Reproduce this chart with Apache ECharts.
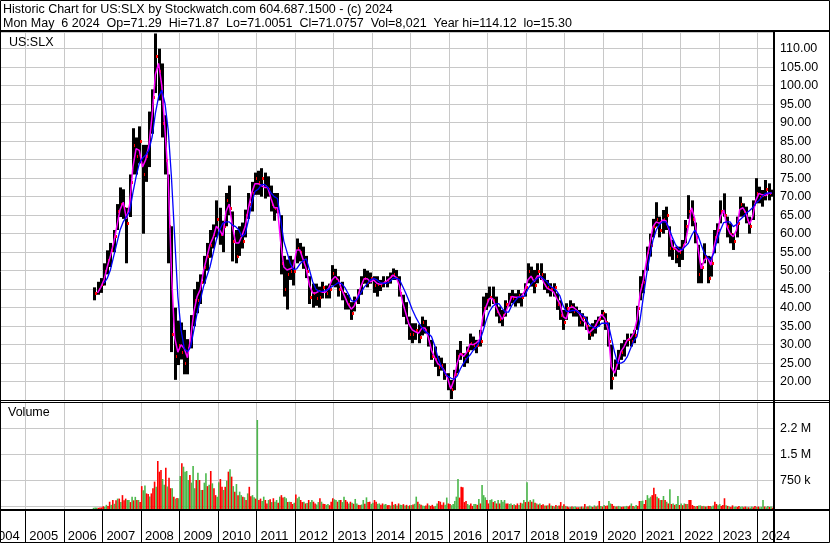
<!DOCTYPE html>
<html><head><meta charset="utf-8">
<script src="https://cdn.jsdelivr.net/npm/echarts@6/dist/echarts.min.js"></script>
<style>html,body{margin:0;padding:0;background:#fff}#c{width:830px;height:543px}</style>
</head><body><div id="c"></div>
<script>
// ---- data (monthly, Oct 2006 .. May 2024) ----
const firstYear = 2006, firstMonth = 10;
const priceLow = [
 42,43.5,44,
 46,49,51,55,61,64.5,64,52,64.5,76,76,79,
 60,74,78,87,98,96,86,76,52,28,20.5,24.5,
 26,22,22,29,35,38.5,41,46.5,50,53.5,56,59,
 57,55,62,65,52.5,52,54,56,59,64,66,70.5,
 70.5,70,69.5,70,66,63.5,65.5,49,43,39.5,47.5,46,
 52,52.5,50.5,48,41,40,40.5,40,42.5,42.5,42.5,46,
 45.5,43,42,39.5,39.5,36.7,39,41,43.5,46.5,45.5,46.5,
 44,43,44.5,45.5,45.5,46.5,47.5,47.5,43,37.5,35.5,31.3,
 30.4,31.3,30.4,32.5,33,29.5,25.9,24,21.5,23,20.5,17.7,
 15.3,17.7,22.3,25.9,24,25,28.5,28.5,27.7,29.5,35,39.4,
 40.3,41,37.6,35.8,35,37.6,40.3,41.2,40.3,41.2,40.3,43,
 46.6,45.7,43.9,46.6,47.5,44.8,43.9,43,43,39.4,36.7,34,
 36.7,38.5,37.6,37.6,34.9,34.9,34,31.3,32.2,33,34.9,36.7,
 34,29.5,17.9,21.4,23.2,25.9,26.8,29.5,29.5,30.4,34,42,
 43.9,50,53.8,59,61.9,59,60,61,53.8,52.9,52,51,
 52.9,57.4,64,62,57.4,46.6,46.6,52,46.6,48.4,54.7,57.4,
 62.8,64.6,59,57.4,55.6,59,64.6,64.6,62.8,60,63.7,68.2,
 68.2,67.3,69,69,70
];
const priceHigh = [
 45.5,47,48,
 52,55.5,57.5,61,68,72.5,72,67,76,88.5,86,89,
 84,84,93,99,114.1,110,106,92,76,62,40,36.5,
 36,34,31.5,38,45,47,49,54,57.5,61,62.5,69,
 67,63.5,71,73,66,61,62,63,66.5,71,74,76.5,
 77,77.7,76.5,75.5,73,71,71,65,54,53,54,53,
 58.7,57.5,56.5,54,48.5,46.5,46.5,45.7,47,46,46.5,51.5,
 50.5,48.5,47,44,43.5,41.5,43,45,48.5,50.5,50,49.5,
 48.5,48.5,47.5,48.5,48.5,49.5,50.6,50.2,48.5,43.5,41.5,37.6,
 35.8,35.8,35.5,37.6,36.7,35,31.3,29.5,27,26.5,25,22.3,
 20.5,23.2,28.6,31,27.7,29.5,33,32.2,31.3,34,43,44,
 45.7,45.7,43,40.3,39.4,42,44,44.8,43.9,44.8,43.9,46.6,
 52,51.1,50.2,52,52,49.3,47.5,46.6,46.6,43.9,42,39.4,
 41.2,42,41.2,40.3,39.4,38.5,37.6,34.9,35.8,36.7,37.6,39.4,
 38.5,36,30,26,28.6,30.4,31.3,33,33,34,40.5,48.5,
 50.2,56.5,60,64,68.5,64.6,66.4,67.3,62,58.3,56.5,56.5,
 58.3,63.7,70.4,69,63,57,52,57.4,54,53.8,61,62.8,
 69,70.9,64.6,62.8,60,64.6,70,68.2,67.3,64.6,69,75,
 72.7,71.8,74.5,73.6,71.9
];
const priceClose = [
 44,45,46.5,
 50,53,55.5,59.5,66,68,67,63,74,84,81,85,
 76,81,88,97,108,104,90,80,62,33,27,30,
 28,25,29,36,42,42,47,51,54,57,60,64,
 60,62,69,67,58,54,60,58,65,68,71,75,
 74,75,73,72,68,67,66,52,45,49,50,50,
 56,55,53,50,43,44,42.5,43,45.5,44,45,49.5,
 48,45,44,42,41,38.5,42,44,47,48,47,48,
 46,46.5,46,47,47.5,48.5,49,48,44,40,37,33,
 33,34,32,36,34,31,27,26,24,24.5,22,19,
 18,22,27,27.5,26,28.5,30.5,30,30,31,40,42,
 43,42,39,37,38,41,43,42.5,42.5,43.5,43,45.5,
 50,48,46,50,49,46,45.5,45,45.5,41,38,36,
 40,40.5,39,39,36,37.5,35,33,34.5,35.5,37,38.5,
 36,31,21,24.5,27,28,30.5,31.5,31,32.5,40,46,
 47,55,57,62,64,61,64,65,56,56,54,55,
 57,62,66,64,59,49,51,54,48,52,59,61,
 66,65,62,60,58,63,68,66,64,62,68,71,
 70,70.5,72,71,71.1
];
const maShort = [
 null,44,45.5,
 47.5,51,54,57.5,62,66.5,68.5,64,68,78,83,82.5,
 78,80,84,92,103,106,100,88,75,50,32,28,
 30,29,26.5,32,39,43,45,50,53.5,57,59,62,
 61,59.5,66,68,62,57.5,57.5,59.5,62,67,71,73.5,
 73.5,73,72.5,72.5,69.5,67,67,58,51,50.2,50.5,51,
 55.6,55.6,53,50.5,46,44,44,44.5,44.2,44.2,45.3,47.5,
 48.4,47.5,45,43,41,39.6,40.5,43,45.7,47.8,47.8,47,
 47.5,46.6,46.3,46.6,47.2,47.9,48.8,48.2,46,41.5,38.5,35.5,
 34,33.5,33.1,34.5,34.5,32,28.5,26.5,24.8,24.2,23,21,
 18,20.5,25,27.7,26.8,28,30.2,30,30.5,31.5,37.5,40.3,
 42.5,42.5,40.5,38.5,36.8,38.5,40.7,43,42.8,42.8,43,44.5,
 47.5,48.5,47,48.6,48.5,46.8,45.3,44.8,44.3,42.5,41,37.6,
 37,40,40.2,39.5,38.5,36.7,36,33.1,34,35,36.7,38.2,
 37.1,34,24,22.3,25,28.1,29.5,31.3,31.7,33.1,36.7,43.9,
 47.5,52.9,57.4,61.9,63.2,62.8,63.7,63.5,61,56.5,56,55.1,
 55.6,57.4,62,67,64,56,50.5,53,53.5,51.5,56.5,60,
 64.6,66.4,61.9,60,59.2,61,66.5,67,65.5,62.5,64.5,69,
 70.9,70.5,70.3,70.9,70.9
];
const maLong = [
 null,null,null,
 46.6,47.9,50.2,53.8,57.4,61,63.2,64.6,66,71,75.4,79,
 80.4,81.3,82.6,86.2,92.5,97,98.8,95.2,88,75.4,59.2,43,
 34,29,28.1,29.5,34,38.5,42,45.7,48.4,51,54.7,58.3,
 61,62.8,63.2,63.2,62.3,61.9,61,59.2,60,63.7,68.2,71.4,
 72,73.2,73.3,72.5,71,70,69.5,64,58,55,52,50.3,
 50.5,51.8,52.6,53.2,50.2,47,45,44.4,44.4,44.6,45,45.7,
 46.2,46.8,46.5,45.5,43.9,42,41.6,42.5,44,45.5,46.5,47.5,
 47.9,47.5,46.8,46.6,46.6,47,47.9,48,47.6,45.8,43.9,41.8,
 39.5,37.6,36,34.6,33.6,33,32.2,29.8,26.5,24.3,22.6,21.5,
 21,20.6,21.5,23.5,25,26.3,27.2,28.5,29.5,31,33.5,36.5,
 38.9,40.3,41,41.1,39.8,38.8,38.8,40.6,41.8,42.8,43,43.2,
 45,46.3,47.3,47.9,48.4,47.7,47,45.8,45.3,44.5,43.2,40.5,
 39,39,39.3,39.2,38.6,38,37.3,35.6,34.9,34.4,35,35.8,
 35.8,35.8,32,28,25,25,25.5,26.8,29,31,32.2,37,
 43,49,54,58.3,61,62.5,63.2,63.2,61.5,59,57,56,
 55.6,56.5,57.4,59.5,61,59.5,57,54.7,53.5,52.9,55,58.5,
 61,63,63.2,63.2,61.9,62.5,63.7,64.5,65.5,66.2,67,68.2,
 69,70,70.9,71,71
];
// volume, in thousands of shares, two values per month (first half, second half)
const volume = [
 35,40,40,35,40,45,
 80,60,120,90,210,120,260,150,250,300,300,200,400,250,300,260,260,200,350,250,350,260,260,200,
 660,540,680,450,430,360,450,600,790,640,1385,1077,1125,865,700,1190,650,900,600,600,350,300,320,310,
 950,1317,1220,1077,1096,836,980,760,1240,600,836,1048,836,550,550,760,1029,660,700,1096,740,600,400,350,
 770,865,640,550,640,817,1077,1144,933,660,500,720,400,500,400,350,340,260,450,640,370,400,340,300,
 2567,260,300,230,356,260,160,260,280,200,310,210,260,180,356,400,330,350,310,200,210,200,145,180,
 420,310,356,260,200,210,160,170,260,200,260,210,160,130,200,310,210,150,145,120,145,110,210,310,
 280,260,210,260,260,200,356,260,210,160,210,180,150,290,160,120,115,130,260,150,336,200,210,150,
 180,260,210,150,160,120,160,130,145,110,115,100,210,120,145,100,160,120,115,140,100,120,90,110,
 115,130,150,356,210,150,120,100,90,100,160,110,90,120,70,90,160,230,210,120,190,120,330,160,
 145,110,145,230,356,865,330,640,625,200,230,145,110,160,90,145,145,120,290,160,690,400,336,260,
 160,260,280,200,230,160,260,160,260,210,260,160,160,145,160,115,135,110,160,115,180,160,260,200,
 770,210,260,210,280,180,160,130,160,115,135,100,100,110,160,100,90,70,115,90,100,200,90,135,
 90,70,50,60,70,60,70,50,50,60,70,50,145,70,70,100,70,60,105,70,100,230,90,70,
 115,90,100,230,160,145,90,70,70,90,70,60,70,70,90,70,100,160,90,70,115,90,230,230,
 240,145,260,400,310,356,400,615,430,356,310,260,260,375,260,210,160,570,145,160,120,145,375,115,
 160,110,160,145,145,260,260,115,90,70,90,100,105,80,90,70,70,90,90,70,100,210,145,110,
 145,90,115,310,105,90,70,60,105,60,70,60,90,60,70,50,70,50,50,40,70,50,90,60,
 70,50,60,260,70,50,90,60,70,40
];
// g = up (green), r = down (red), one letter per half month
const volumeDirection = [
 'gggrrr',
 'rggrrgrgrgrgrrrggrgrgrgr',
 'rggrrgrrrgrrrggrgrrgrgrg',
 'grggggrgggrgrgrggrgrgrrg',
 'grrgrgrgrgrgrggrgrgrrggr',
 'grrggrrgrgrggrgrrggrgrrg',
 'rggrrgrgrggrrggrgrrggrrr',
 'ggrgrggrrgrgrggrrggrgrrg',
 'grrggrrggrrgrgrgrggrgrgr',
 'grggrgrggrrgrrrggrrrrggr',
 'rgggggrrrrrggrrggrgrgggr',
 'rggrgrgrgggrrggrgrrgrggr',
 'grgrgrgrgrrgrgrgrgrgrrgr',
 'grrgrggrrgrgrgrggrgrgrgr',
 'grrggrrgrggrrggrrgrggrrg',
 'grrgggrrrgrgrgrgrgrgrggr',
 'grgrgrrrrgrggrgrgrrggrrg',
 'grrrgrgrrggrrggrrgrggrrg',
 'rgggrggrgr'
].join('');
const priceTicks = [20,25,30,35,40,45,50,55,60,65,70,75,80,85,90,95,100,105,110];
const volumeTickLabels = {750: '750 k', 1500: '1.5 M', 2250: '2.2 M'};
const titleLine1 = 'Historic Chart for US:SLX by Stockwatch.com 604.687.1500 - (c) 2024';
const titleLine2 = 'Mon May  6 2024  Op=71.29  Hi=71.87  Lo=71.0051  Cl=71.0757  Vol=8,021  Year hi=114.12  lo=15.30';

// ---- build ----
const FONT = '"Liberation Sans", Arial, sans-serif';
const monthX = priceLow.map((_, i) => firstYear + (firstMonth - 1 + i + 0.5) / 12);
const halfX = volume.map((_, j) => firstYear + (firstMonth - 1 + j * 0.5 + 0.25) / 12);

const barData = priceLow.map((lo, i) => [monthX[i], lo, priceHigh[i], priceClose[i]]);
const shortData = maShort.map((v, i) => [monthX[i], v]);
const longData = maLong.map((v, i) => [monthX[i], v]);
const volData = volume.map((v, j) => [halfX[j], v, volumeDirection[j] === 'g' ? 1 : 0]);

const X_MIN = 2004, X_MAX = 2024.405;
const GL = -13.2, GR = 57;
const GRID_COLOR = '#c8c8c8';

function grid(top, height) {
  return {left: GL, right: GR, top: top, height: height, outerBoundsMode: 'none', containLabel: false};
}
function xAxis(gi, extra) {
  return Object.assign({
    type: 'value', gridIndex: gi, min: X_MIN, max: X_MAX, interval: 1,
    axisLine: {show: false}, axisTick: {show: false}, axisLabel: {show: false},
    splitLine: {show: true, lineStyle: {color: GRID_COLOR, width: 1}}
  }, extra || {});
}

const chart = echarts.init(document.getElementById('c'), null, {renderer: 'canvas'});
chart.setOption({
  animation: false,
  backgroundColor: '#fff',
  grid: [grid(32, 368.2), grid(402.3, 104), grid(402.3, 106.7), grid(510, 18)],
  xAxis: [
    xAxis(0),
    xAxis(1, {splitLine: {show: false}}),
    xAxis(2),
    xAxis(3, {
      splitLine: {show: true, lineStyle: {color: '#000', width: 1}},
      axisTick: {show: true, length: 15, lineStyle: {color: '#000', width: 1}},
      axisLabel: {show: true, hideOverlap: false, align: 'left', margin: 2, padding: [0, 0, 0, 4],
        color: '#000', fontSize: 13, fontFamily: FONT,
        formatter: v => Number.isInteger(v) ? String(v) : ''}
    })
  ],
  yAxis: [
    {type: 'value', gridIndex: 0, position: 'right', min: 15, max: 114.5, interval: 5,
     axisLine: {show: false}, axisTick: {show: false},
     splitLine: {show: true, lineStyle: {color: GRID_COLOR, width: 1}},
     axisLabel: {show: true, hideOverlap: false, margin: 7, align: 'left', color: '#000', fontSize: 12.5, fontFamily: FONT,
       formatter: v => priceTicks.indexOf(v) >= 0 ? v.toFixed(2) : ''}},
    {type: 'value', gridIndex: 1, position: 'right', min: 0, max: 3000, interval: 750,
     axisLine: {show: false}, axisTick: {show: false},
     splitLine: {show: true, lineStyle: {color: GRID_COLOR, width: 1}},
     axisLabel: {show: true, hideOverlap: false, margin: 7, align: 'left', color: '#000', fontSize: 12.5, fontFamily: FONT,
       formatter: v => volumeTickLabels[v] || ''}},
    {type: 'value', gridIndex: 2, min: 0, max: 3078, show: false},
    {type: 'value', gridIndex: 3, min: 0, max: 1, show: false}
  ],
  series: [
    {type: 'custom', xAxisIndex: 0, yAxisIndex: 0, z: 2, data: barData,
     renderItem: function (params, api) {
       const x = api.value(0);
       const pLo = api.coord([x, api.value(1)]);
       const pHi = api.coord([x, api.value(2)]);
       const pCl = api.coord([x, api.value(3)]);
       const cx = Math.round(pLo[0]);
       return {type: 'group', children: [
         {type: 'rect', shape: {x: cx - 1, y: pHi[1], width: 3, height: Math.max(1, pLo[1] - pHi[1])}, style: {fill: '#000'}},
         {type: 'rect', shape: {x: cx + 1, y: Math.round(pCl[1]) - 1, width: 2, height: 3}, style: {fill: '#ff0000'}}
       ]};
     }},
    {type: 'line', xAxisIndex: 0, yAxisIndex: 0, z: 3, data: shortData, showSymbol: false, connectNulls: false,
     lineStyle: {color: '#ff00ff', width: 1.5}},
    {type: 'line', xAxisIndex: 0, yAxisIndex: 0, z: 4, data: longData, showSymbol: false, connectNulls: false,
     lineStyle: {color: '#0000ff', width: 1.3}},
    {type: 'custom', xAxisIndex: 2, yAxisIndex: 2, z: 2, data: volData,
     renderItem: function (params, api) {
       const x = api.value(0);
       const p0 = api.coord([x, 0]);
       const p1 = api.coord([x, api.value(1)]);
       const w = api.size([1 / 24, 0])[0];
       return {type: 'rect', shape: {x: p0[0] - w / 2, y: p1[1], width: w, height: p0[1] - p1[1]},
         style: {fill: api.value(2) ? '#4cb84c' : '#ff0000'}};
     }}
  ],
  graphic: [
    {type: 'text', left: 3, top: 3, z: 100, style: {text: titleLine1, fill: '#000', font: '12.5px ' + FONT}},
    {type: 'text', left: 3, top: 17, z: 100, style: {text: titleLine2, fill: '#000', font: '12.5px ' + FONT}},
    {type: 'text', left: 9, top: 36, z: 100, style: {text: 'US:SLX', fill: '#000', font: '12.5px ' + FONT}},
    {type: 'text', left: 8, top: 406, z: 100, style: {text: 'Volume', fill: '#000', font: '12.5px ' + FONT}},
    {type: 'line', z: 100, shape: {x1: 0, y1: 31, x2: 830, y2: 31}, style: {stroke: '#000', lineWidth: 2}},
    {type: 'line', z: 100, shape: {x1: 0, y1: 400.5, x2: 830, y2: 400.5}, style: {stroke: '#000', lineWidth: 1}},
    {type: 'line', z: 100, shape: {x1: 0, y1: 402.5, x2: 830, y2: 402.5}, style: {stroke: '#000', lineWidth: 1}},
    {type: 'line', z: 100, shape: {x1: 0, y1: 510, x2: 830, y2: 510}, style: {stroke: '#000', lineWidth: 2}},
    {type: 'line', z: 100, shape: {x1: 774, y1: 31, x2: 774, y2: 543}, style: {stroke: '#000', lineWidth: 2}},
    {type: 'rect', z: 100, shape: {x: 0.5, y: 0.5, width: 829, height: 542}, style: {fill: null, stroke: '#000', lineWidth: 1}}
  ]
});
</script>
</body></html>
